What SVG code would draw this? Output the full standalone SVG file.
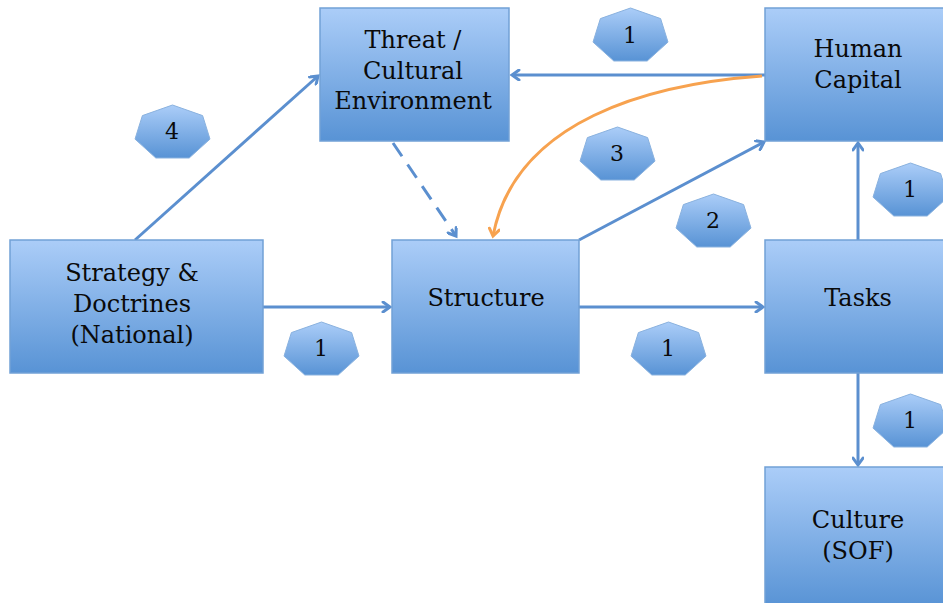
<svg xmlns="http://www.w3.org/2000/svg" width="943" height="603" viewBox="0 0 943 603">
<defs>
<linearGradient id="g" x1="0" y1="0" x2="0" y2="1">
<stop offset="0" stop-color="#abcdf8"/>
<stop offset="1" stop-color="#5893d5"/>
</linearGradient>
<marker id="a" markerWidth="12" markerHeight="12" refX="9" refY="6" orient="auto" markerUnits="userSpaceOnUse">
<path d="M2,1 L9,6 L2,11" fill="none" stroke="#5b8fcf" stroke-width="3" stroke-linecap="round"/>
</marker>
<marker id="o" markerWidth="12" markerHeight="12" refX="9" refY="6" orient="auto" markerUnits="userSpaceOnUse">
<path d="M2,1 L9,6 L2,11" fill="none" stroke="#f7a24f" stroke-width="3" stroke-linecap="round"/>
</marker>
<polygon id="h" points="37.5,0 67.6,10.6 75,34.1 54.2,53 20.8,53 0,34.1 7.4,10.6"/>
</defs>
<style>
.box{fill:url(#g);stroke:#72a1d6;stroke-width:1.5}
.hep{fill:url(#g);stroke:#8ab2df;stroke-width:1}
.t{font-family:"DejaVu Serif","Liberation Serif",serif;font-size:24px;fill:#0a0a0a;text-anchor:middle}
.n{font-family:"DejaVu Serif","Liberation Serif",serif;font-size:22px;fill:#0a0a0a;text-anchor:middle}
.c{fill:none;stroke:#5b8fcf;stroke-width:3}
</style>
<g id="connectors">
<line class="c" x1="765" y1="75" x2="512" y2="75" marker-end="url(#a)"/>
<line class="c" x1="135" y1="240" x2="318" y2="76" marker-end="url(#a)"/>
<line class="c" x1="393" y1="143" x2="456" y2="236" stroke-dasharray="16,10" marker-end="url(#a)"/>
<line class="c" x1="263" y1="307" x2="390" y2="307" marker-end="url(#a)"/>
<line class="c" x1="579" y1="307" x2="763" y2="307" marker-end="url(#a)"/>
<line class="c" x1="579" y1="240" x2="764" y2="142" marker-end="url(#a)"/>
<line class="c" x1="858" y1="240" x2="858" y2="143" marker-end="url(#a)"/>
<line class="c" x1="858" y1="373" x2="858" y2="465" marker-end="url(#a)"/>
<path d="M762,76 C650,84 515,120 493,236" fill="none" stroke="#f7a24f" stroke-width="3" marker-end="url(#o)"/>
</g>
<g id="strategy"><rect class="box" x="10" y="240" width="253" height="133"/>
<text class="t" x="132" y="281">Strategy &amp;</text><text class="t" x="132" y="312">Doctrines</text><text class="t" x="132" y="343">(National)</text></g>
<g id="threat"><rect class="box" x="320" y="8" width="189" height="133"/>
<text class="t" x="413" y="48">Threat /</text><text class="t" x="413" y="79">Cultural</text><text class="t" x="413" y="109">Environment</text></g>
<g id="human"><rect class="box" x="765" y="8" width="185" height="133"/>
<text class="t" x="858" y="57">Human</text><text class="t" x="858" y="88">Capital</text></g>
<g id="structure"><rect class="box" x="392" y="240" width="187" height="133"/>
<text class="t" x="486" y="306">Structure</text></g>
<g id="tasks"><rect class="box" x="765" y="240" width="185" height="133"/>
<text class="t" x="858" y="306">Tasks</text></g>
<g id="culture"><rect class="box" x="765" y="467" width="185" height="140"/>
<text class="t" x="858" y="528">Culture</text><text class="t" x="858" y="559">(SOF)</text></g>
<g id="h1"><use href="#h" class="hep" x="593" y="8"/><text class="n" x="630" y="43">1</text></g>
<g id="h4"><use href="#h" class="hep" x="135" y="105"/><text class="n" x="172" y="139">4</text></g>
<g id="h3"><use href="#h" class="hep" x="580" y="127"/><text class="n" x="617" y="161">3</text></g>
<g id="h2"><use href="#h" class="hep" x="676" y="194"/><text class="n" x="713" y="228">2</text></g>
<g id="h1r"><use href="#h" class="hep" x="873" y="163"/><text class="n" x="910" y="197">1</text></g>
<g id="h1a"><use href="#h" class="hep" x="284" y="322"/><text class="n" x="321" y="356">1</text></g>
<g id="h1b"><use href="#h" class="hep" x="631" y="322"/><text class="n" x="668" y="356">1</text></g>
<g id="h1c"><use href="#h" class="hep" x="873" y="394"/><text class="n" x="910" y="428">1</text></g>
</svg>
